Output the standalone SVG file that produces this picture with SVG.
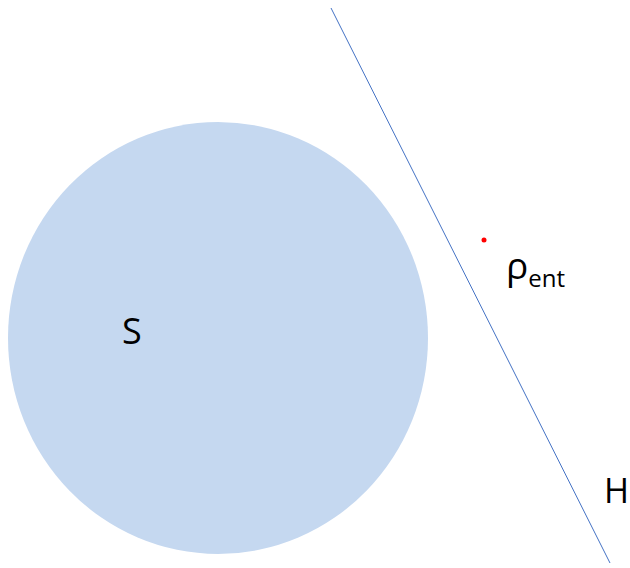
<svg xmlns="http://www.w3.org/2000/svg" width="630" height="568" viewBox="0 0 630 568">
<style>
.t{font-family:"Open Sans","Liberation Sans",sans-serif;fill:#000;}
</style>
<rect width="630" height="568" fill="#fff"/>
<g id="S">
<ellipse cx="218" cy="338" rx="210" ry="216" fill="#c5d8f0"/>
<text class="t" x="122" y="344" font-size="36">S</text>
</g>
<g id="connectors">
<line x1="331" y1="8" x2="610" y2="563" stroke="#4472c4" stroke-width="1"/>
</g>
<g id="H">
<text class="t" x="604" y="503" font-size="34">H</text>
</g>
<g id="rho">
<circle cx="484" cy="240" r="2.5" fill="#ff0000"/>
<text class="t" x="506" y="279" font-size="37">ρ<tspan font-size="24" dy="8">ent</tspan></text>
</g>
</svg>
